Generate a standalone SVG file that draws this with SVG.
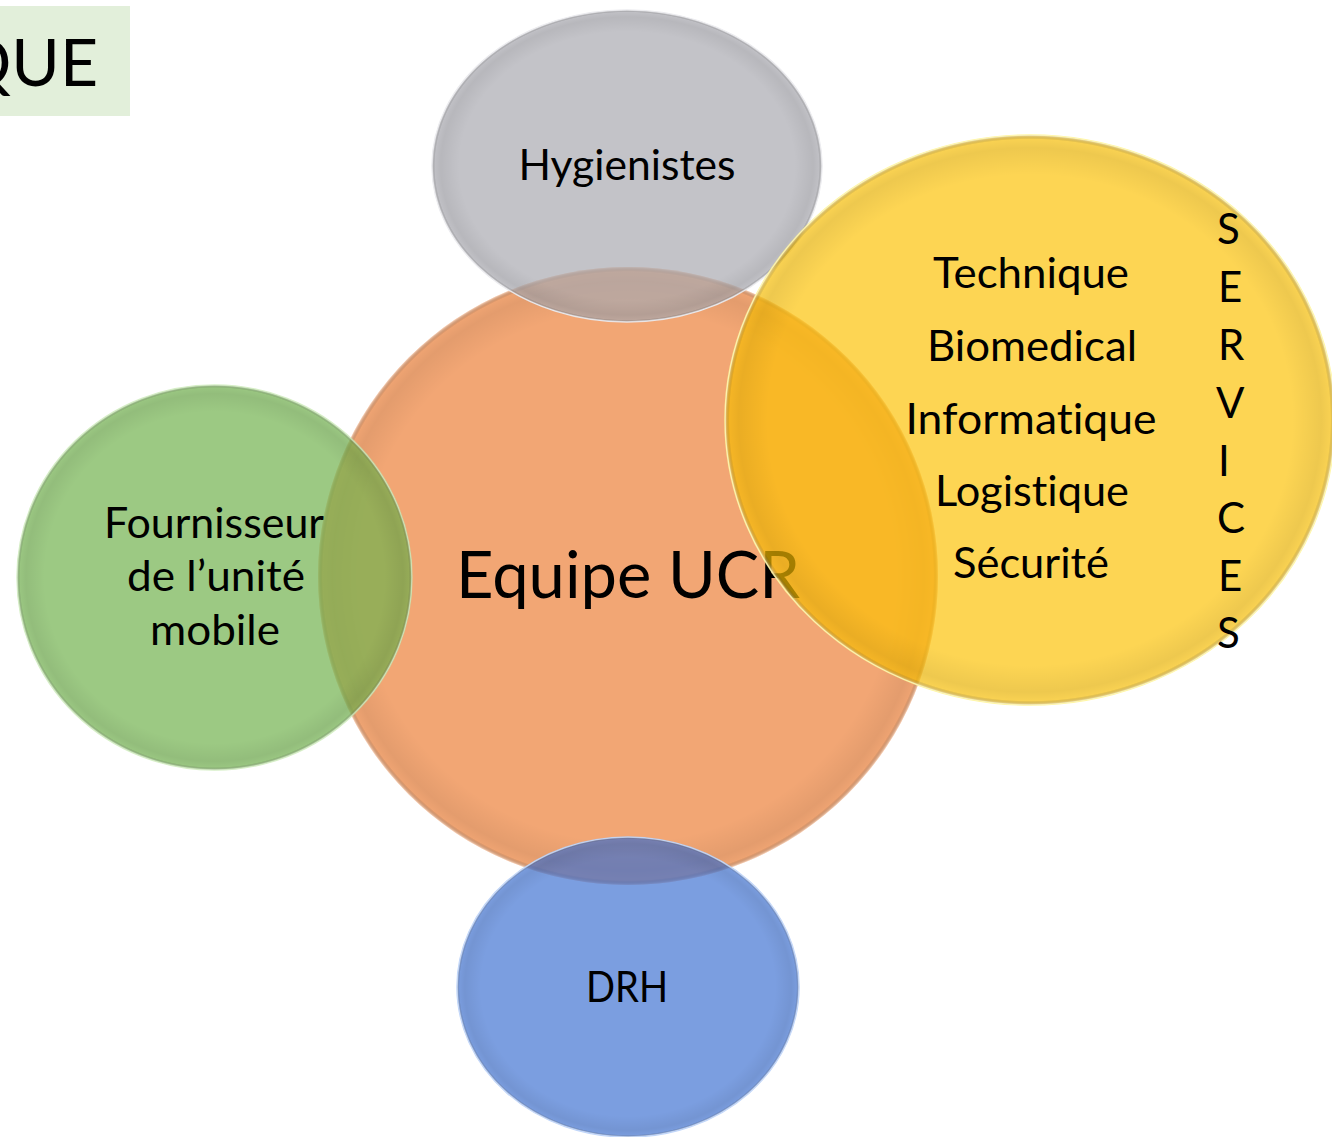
<svg xmlns="http://www.w3.org/2000/svg" width="1332" height="1137" viewBox="0 0 1332 1137">
  <style>
    .t { font-family: Lato, "Open Sans", "Liberation Sans", sans-serif; font-size: 42px; fill: #000; text-anchor: middle; font-variant-ligatures: none; }
    .big { font-size: 66px; }
    .v { text-anchor: start; }
  </style>
  <defs>
    <radialGradient id="rim" cx="0.5" cy="0.5" r="0.5">
      <stop offset="0.86" stop-color="#000" stop-opacity="0"/>
      <stop offset="0.955" stop-color="#000" stop-opacity="0.06"/>
      <stop offset="0.985" stop-color="#000" stop-opacity="0.02"/>
      <stop offset="1" stop-color="#fff" stop-opacity="0.5"/>
    </radialGradient>
  </defs>
  <rect width="1332" height="1137" fill="#fff"/>

  <g id="title">
    <rect x="0" y="6" width="130" height="110" fill="#e2efda"/>
    <text class="t big" x="98" y="86" style="text-anchor:end">QUE</text>
  </g>

  <g id="connectors"/>

  <g id="node-equipe">
    <ellipse cx="628" cy="576" rx="310" ry="309" fill="#f2a674"/>
    <ellipse cx="628" cy="576" rx="310" ry="309" fill="url(#rim)"/>
    <text class="t big" x="628" y="598" textLength="344" lengthAdjust="spacingAndGlyphs">Equipe UCR</text>
  </g>

  <g id="node-fournisseur">
    <ellipse cx="214.5" cy="577.5" rx="197.5" ry="192.5" fill="#72b24e" fill-opacity="0.7" stroke="#c4e8ae" stroke-opacity="0.7" stroke-width="1.5"/>
    <ellipse cx="214.5" cy="577.5" rx="197.5" ry="192.5" fill="url(#rim)"/>
    <text class="t" x="214" y="538" textLength="220" lengthAdjust="spacingAndGlyphs">Fournisseur</text>
    <text class="t" x="216" y="591" textLength="178" lengthAdjust="spacingAndGlyphs">de l’unité</text>
    <text class="t" x="215" y="645" textLength="130" lengthAdjust="spacingAndGlyphs">mobile</text>
  </g>

  <g id="node-hygienistes">
    <ellipse cx="627" cy="166" rx="195" ry="156" fill="#a9a9b0" fill-opacity="0.7" stroke="#e8e8ec" stroke-opacity="0.9" stroke-width="1.5"/>
    <ellipse cx="627" cy="166" rx="195" ry="156" fill="url(#rim)"/>
    <text class="t" x="627" y="180" textLength="217" lengthAdjust="spacingAndGlyphs">Hygienistes</text>
  </g>

  <g id="node-services">
    <ellipse cx="1030" cy="420" rx="305" ry="285" fill="#fcc102" fill-opacity="0.68" stroke="#fff59a" stroke-opacity="0.9" stroke-width="1.5"/>
    <ellipse cx="1030" cy="420" rx="305" ry="285" fill="url(#rim)"/>
    <text class="t" x="1031" y="288" textLength="196" lengthAdjust="spacingAndGlyphs">Technique</text>
    <text class="t" x="1032" y="361" textLength="210" lengthAdjust="spacingAndGlyphs">Biomedical</text>
    <text class="t" x="1031" y="434" textLength="251" lengthAdjust="spacingAndGlyphs">Informatique</text>
    <text class="t" x="1032" y="506" textLength="194" lengthAdjust="spacingAndGlyphs">Logistique</text>
    <text class="t" x="1031" y="578" textLength="156" lengthAdjust="spacingAndGlyphs">Sécurité</text>
    <text class="t v" x="1217" y="244">S</text>
    <text class="t v" x="1218" y="302">E</text>
    <text class="t v" x="1218" y="360">R</text>
    <text class="t v" x="1216" y="418">V</text>
    <text class="t v" x="1218" y="476">I</text>
    <text class="t v" x="1217" y="533">C</text>
    <text class="t v" x="1218" y="591">E</text>
    <text class="t v" x="1217" y="648">S</text>
  </g>

  <g id="node-drh">
    <ellipse cx="628" cy="987" rx="171" ry="150" fill="#3d70d1" fill-opacity="0.68" stroke="#b8d0fa" stroke-opacity="0.9" stroke-width="1.5"/>
    <ellipse cx="628" cy="987" rx="171" ry="150" fill="url(#rim)"/>
    <text class="t" x="627" y="1002" textLength="82" lengthAdjust="spacingAndGlyphs">DRH</text>
  </g>
</svg>
